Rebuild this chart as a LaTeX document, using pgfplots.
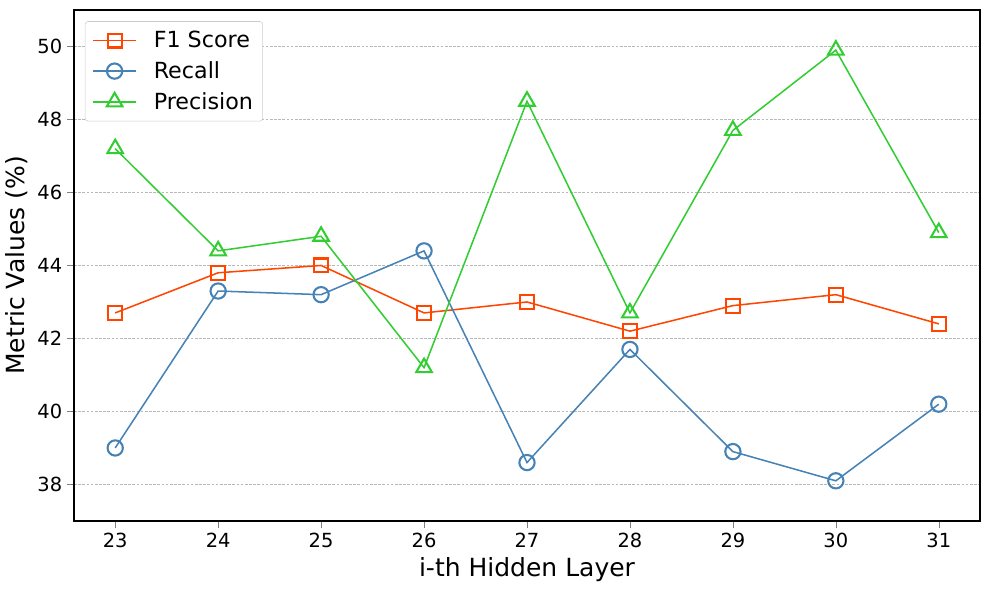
\documentclass[border=0pt]{standalone}
\usepackage{fontspec}
\setmainfont{DejaVu Sans}
\usepackage{pgfplots}
\pgfplotsset{compat=1.18}

\definecolor{f1col}{HTML}{FF4500}
\definecolor{reccol}{HTML}{4682B4}
\definecolor{precol}{HTML}{32CD32}

\begin{document}
\begin{tikzpicture}
\useasboundingbox (-53.3pt,-49.7pt) rectangle (658.8pt,375.1pt);
\begin{axis}[
    scale only axis,
    width=652.3pt,
    height=367.9pt,
    xmin=22.6, xmax=31.4,
    ymin=37, ymax=51,
    xtick={23,...,31},
    ytick={38,40,...,50},
    /pgf/number format/assume math mode=true,
    tick label style={font=\fontsize{14}{16}\selectfont},
    xlabel={i-th Hidden Layer},
    ylabel={Metric Values (\%)},
    label style={font=\fontsize{18}{21}\selectfont},
    ymajorgrids=true,
    grid style={dash pattern=on 2pt off 1pt, color=black!28, line width=0.35pt},
    tick align=outside,
    tick pos=left,
    major tick length=5pt,
    axis line style={line width=0.8pt},
    legend style={at={(0.012,0.978)}, anchor=north west,
        font=\fontsize{16}{19}\selectfont, draw=black!20, rounded corners=2pt,
        row sep=4.5pt, inner xsep=5pt, inner ysep=5pt,
        /tikz/every odd column/.append style={column sep=10pt}},
    legend cell align=left,
    legend image code/.code={
        \draw[mark repeat=2, mark phase=2, mark options={line width=1.5pt, fill=none}]
            plot coordinates {(0cm,0cm) (0.55cm,0cm) (1.1cm,0cm)};
    },
    every axis plot/.append style={line width=1.1pt},
]
\addplot[color=f1col, mark=square, mark size=5pt, mark options={line width=1.5pt, fill=none}] coordinates {
    (23,42.7) (24,43.8) (25,44.0) (26,42.7) (27,43.0) (28,42.2) (29,42.9) (30,43.2) (31,42.4)
};
\addplot[color=reccol, mark=o, mark size=5.5pt, mark options={line width=1.5pt, fill=none}] coordinates {
    (23,39.0) (24,43.3) (25,43.2) (26,44.4) (27,38.6) (28,41.7) (29,38.9) (30,38.1) (31,40.2)
};
\addplot[color=precol, mark=triangle, mark size=6.5pt, mark options={line width=1.5pt, fill=none}] coordinates {
    (23,47.2) (24,44.4) (25,44.8) (26,41.2) (27,48.5) (28,42.7) (29,47.7) (30,49.9) (31,44.9)
};
\legend{F1 Score, Recall, Precision}
\end{axis}
\end{tikzpicture}
\end{document}
